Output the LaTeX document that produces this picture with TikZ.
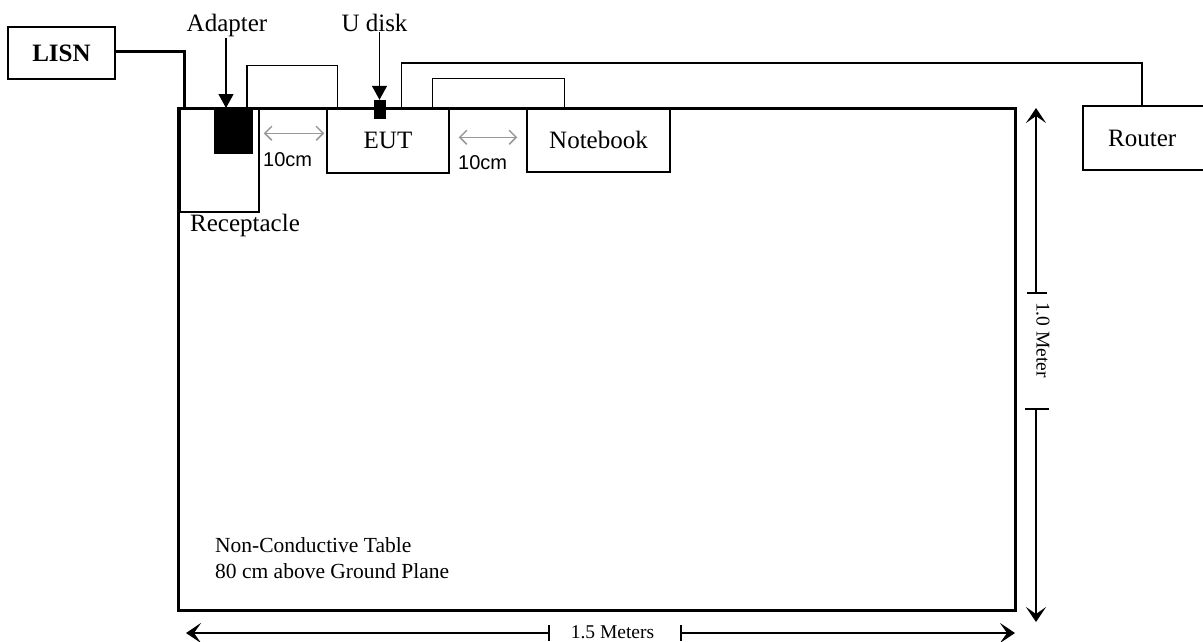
\documentclass[tikz,border=0pt]{standalone}
\usepackage{fontspec}
\setmainfont{Liberation Serif}
\newfontfamily\arialfont{Liberation Sans}
\usetikzlibrary{arrows.meta}
\begin{document}
\begin{tikzpicture}[x=1pt,y=-1pt,
  box/.style={draw,line width=1.5pt,inner sep=0pt,minimum width=#1},
  lbl/.style={inner sep=0pt,font=\fontsize{25}{29}\selectfont},
  tabtxt/.style={inner sep=0pt,font=\fontsize{21.5}{25}\selectfont},
  small/.style={inner sep=0pt,font=\arialfont\fontsize{20}{24}\selectfont},
  dimtxt/.style={inner sep=0pt,font=\fontsize{19.5}{23}\selectfont},
  cable/.style={line width=1.5pt},
  power/.style={line width=3pt},
  gaparrow/.style={line width=1.5pt,draw=black!40,{Straight Barb[length=7pt,width=14pt]}-{Straight Barb[length=7pt,width=14pt]}},
  dimline/.style={line width=1.5pt},
  dimtip/.style={-{Stealth[length=15pt,width=20pt,inset=7pt]}},
  pointer/.style={line width=1.3pt,-{Triangle[length=14pt,width=15pt]}}
]
\useasboundingbox (0,0) rectangle (1203,641);
\clip (0,0) rectangle (1203,641);

% table
\node[box=837pt,line width=3pt,minimum height=502pt] (table) at (596.5,359) {};

% devices
\node[box=107pt,minimum height=52pt,lbl,font=\fontsize{25}{29}\selectfont\bfseries] (lisn) at (61.5,53) {LISN};
\node[box=79pt,minimum height=104pt] (receptacle) at (219.5,160) {};
\node[draw,fill=black,inner sep=0pt,minimum width=38pt,minimum height=45pt] (adapter) at (233,130.5) {};
\node[box=122pt,minimum height=65pt,lbl] (eut) at (388,140.5) {EUT};
\node[box=143pt,minimum height=64pt,lbl] (notebook) at (598.5,140) {Notebook};
\node[box=140pt,minimum height=64pt,anchor=north west] (router) at (1082,105) {};
\node[lbl,anchor=base west] (routerlabel) at (1108,146) {Router};
\node[draw,fill=black,inner sep=0pt,minimum width=11pt,minimum height=18pt] (usb) at (379.5,109) {};

% labels
\node[lbl,anchor=base] (adlabel) at (227,31) {Adapter};
\node[lbl,anchor=base] (ulabel) at (374.5,31) {U disk};
\node[lbl,anchor=base west] (reclabel) at (190,231) {Receptacle};
\node[tabtxt,anchor=base west] (tab1) at (215,552) {Non-Conductive Table};
\node[tabtxt,anchor=base west] (tab2) at (215,578) {80 cm above Ground Plane};
\node[small,anchor=base west] (gap1) at (263,166) {10cm};
\node[small,anchor=base west] (gap2) at (458,169) {10cm};

% pointers
\draw[pointer] ([yshift=-1pt]adlabel.south -| 226,0) -- (226,108);
\draw[pointer] ([yshift=-1pt]ulabel.south -| usb.north) -- (usb.north);

% cables
\draw[power] ([yshift=2pt]lisn.east) -| ([xshift=8pt]table.north west);
\draw[cable] ([xshift=-5pt]adapter.north east) |- ([xshift=11pt,yshift=42pt]eut.north west) -- ([xshift=11pt]eut.north west);
\draw[cable] ([xshift=75pt]eut.north west) |- ([xshift=60pt,yshift=42pt]router.north west) -- ([xshift=60pt]router.north west);
\draw[cable] ([xshift=106pt]eut.north west) |- ([xshift=38pt,yshift=29pt]notebook.north west) -- ([xshift=38pt]notebook.north west);

% spacing arrows
\draw[gaparrow] ([xshift=4pt,yshift=-26pt]receptacle.north east) -- ([xshift=-2pt,yshift=-26pt]eut.north west);
\draw[gaparrow] ([xshift=9pt,yshift=-30pt]eut.north east) -- ([xshift=-9pt,yshift=-30pt]notebook.north west);

% vertical dimension
\coordinate (vtop) at (1036,108);
\coordinate (vtick1) at (1036,293);
\coordinate (vtick2) at (1036,409);
\coordinate (vbot) at (1036,622);
\draw[dimline,dimtip] (vtick1) -- (vtop);
\draw[dimline,dimtip] (vtick2) -- (vbot);
\draw[dimline] ([xshift=-9pt]vtick1) -- ([xshift=11pt]vtick1);
\draw[dimline] ([xshift=-11pt]vtick2) -- ([xshift=13pt]vtick2);
\node[dimtxt,rotate=-90] (vtxt) at (1043,340) {1.0 Meter};

% horizontal dimension
\coordinate (hleft) at (186,633);
\coordinate (htick1) at (549,633);
\coordinate (htick2) at (681,633);
\coordinate (hright) at (1015,633);
\draw[dimline,dimtip] (htick1) -- (hleft);
\draw[dimline,dimtip] (htick2) -- (hright);
\draw[dimline] ([yshift=8pt]htick1) -- ([yshift=-8pt]htick1);
\draw[dimline] ([yshift=8pt]htick2) -- ([yshift=-8pt]htick2);
\node[dimtxt] (htxt) at (612.5,632) {1.5 Meters};
\end{tikzpicture}
\end{document}
